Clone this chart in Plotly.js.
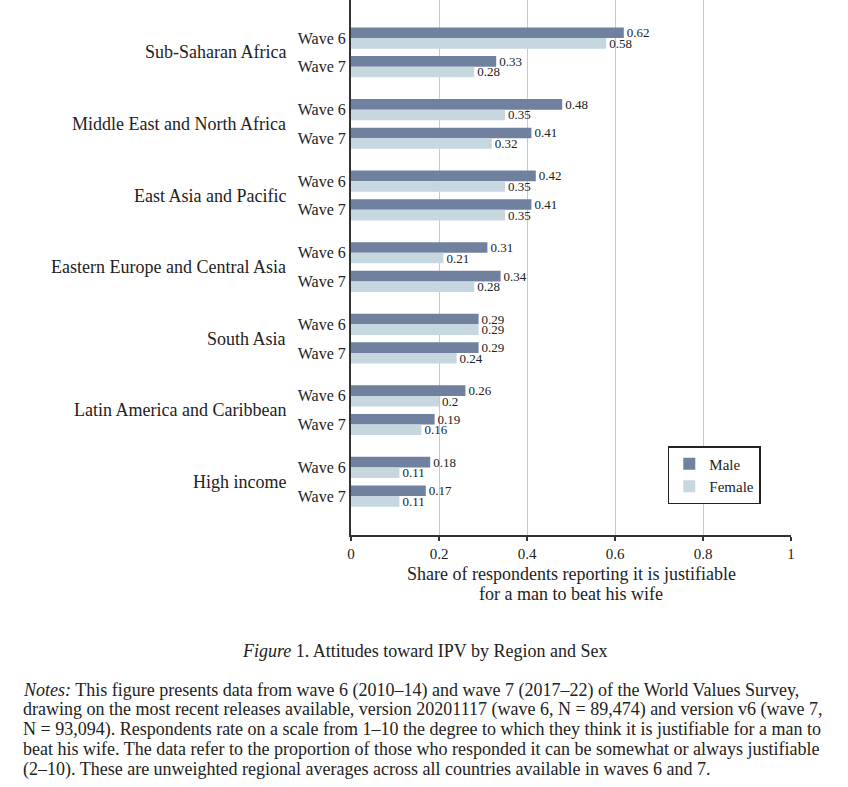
<!DOCTYPE html>
<html>
<head>
<meta charset="utf-8">
<script src="https://cdn.plot.ly/plotly-3.0.1.min.js"></script>
<style>
  html, body { margin: 0; padding: 0; background: #fff; }
  #chart { width: 848px; height: 787px; }
</style>
</head>
<body>
<div id="chart"></div>
<script>
// Regions, top to bottom
var regions = [
  "Sub-Saharan Africa",
  "Middle East and North Africa",
  "East Asia and Pacific",
  "Eastern Europe and Central Asia",
  "South Asia",
  "Latin America and Caribbean",
  "High income"
];
var waves = ["Wave 6", "Wave 7"];

// share reporting it justifiable, [wave 6, wave 7] per region
var maleValues = [
  [0.62, 0.33],
  [0.48, 0.41],
  [0.42, 0.41],
  [0.31, 0.34],
  [0.29, 0.29],
  [0.26, 0.19],
  [0.18, 0.17]
];
var femaleValues = [
  [0.58, 0.28],
  [0.35, 0.32],
  [0.35, 0.35],
  [0.21, 0.28],
  [0.29, 0.24],
  [0.2, 0.16],
  [0.11, 0.11]
];

var xTicks = [0, 0.2, 0.4, 0.6, 0.8, 1];

var axisTitleLines = [
  'Share of respondents reporting it is justifiable',
  'for a man to beat his wife'
];
var captionText = '<i>Figure</i> 1. Attitudes toward IPV by Region and Sex';
var noteLines = [
  '<i>Notes:</i> This figure presents data from wave 6 (2010–14) and wave 7 (2017–22) of the World Values Survey,',
  'drawing on the most recent releases available, version 20201117 (wave 6, N = 89,474) and version v6 (wave 7,',
  'N = 93,094). Respondents rate on a scale from 1–10 the degree to which they think it is justifiable for a man to',
  'beat his wife. The data refer to the proportion of those who responded it can be somewhat or always justifiable',
  '(2–10). These are unweighted regional averages across all countries available in waves 6 and 7.'
];

var serif = '"Liberation Serif", "DejaVu Serif", serif';
var ink = '#222';
var regionStep = 2.5;
var plotH = 535;

// flatten into rows: one per region / wave
var pos = [], waveText = [], male = [], female = [];
for (var r = 0; r < regions.length; r++) {
  for (var w = 0; w < waves.length; w++) {
    pos.push(r * regionStep + w);
    waveText.push(waves[w]);
    male.push(maleValues[r][w]);
    female.push(femaleValues[r][w]);
  }
}

function barTrace(name, values, color) {
  return {
    type: 'bar',
    orientation: 'h',
    name: name,
    y: pos,
    x: values,
    text: values.map(String),
    textposition: 'outside',
    constraintext: 'none',
    cliponaxis: false,
    textfont: { family: serif, size: 13, color: ink },
    marker: { color: color },
    hoverinfo: 'x'
  };
}

var maleTrace = barTrace('Male', male, '#6f819f');
var femaleTrace = barTrace('Female', female, '#c6d7df');

// paper y for a pixel row measured from the top of the page
function py(pixel) {
  return (plotH - pixel) / plotH;
}

// region labels on the left
var annotations = regions.map(function (name, r) {
  return {
    xref: 'paper', yref: 'y',
    x: 0, y: r * regionStep + 0.5,
    xanchor: 'right', yanchor: 'middle',
    xshift: -63,
    showarrow: false,
    text: name,
    font: { family: serif, size: 18, color: ink }
  };
});

axisTitleLines.forEach(function (line, i) {
  annotations.push({
    xref: 'paper', yref: 'paper',
    x: 0.5, y: py(574 + i * 20),
    xanchor: 'center', yanchor: 'middle',
    showarrow: false,
    text: line,
    font: { family: serif, size: 18, color: ink }
  });
});

annotations.push({
  xref: 'paper', yref: 'paper',
  x: 0.166, y: py(651),
  xanchor: 'center', yanchor: 'middle',
  showarrow: false,
  text: captionText,
  font: { family: serif, size: 18, color: ink }
});

noteLines.forEach(function (line, i) {
  annotations.push({
    xref: 'paper', yref: 'paper',
    x: (21 - 351) / 440, y: py(690 + i * 19.8),
    xanchor: 'left', yanchor: 'middle',
    align: 'left',
    showarrow: false,
    text: line,
    font: { family: serif, size: 18, color: ink }
  });
});

var layout = {
  width: 848,
  height: 787,
  margin: { l: 351, r: 57, t: 0, b: 787 - plotH },
  paper_bgcolor: '#fff',
  plot_bgcolor: '#fff',
  font: { family: serif, color: ink },
  barmode: 'group',
  bargap: 0.26,
  bargroupgap: 0,
  showlegend: true,
  legend: {
    x: 0.72, y: py(446),
    xanchor: 'left', yanchor: 'top',
    bgcolor: '#fff',
    bordercolor: ink,
    borderwidth: 1.5,
    font: { family: serif, size: 15, color: ink },
    tracegroupgap: 6
  },
  xaxis: {
    range: [0, 1],
    tickvals: xTicks,
    ticktext: xTicks.map(String),
    showgrid: true,
    gridcolor: '#c9c9c9',
    gridwidth: 1,
    zeroline: false,
    showline: true,
    linecolor: '#333',
    linewidth: 2,
    ticks: 'outside',
    ticklen: 4,
    tickwidth: 2,
    tickcolor: '#333',
    tickfont: { family: serif, size: 15, color: ink },
    fixedrange: true
  },
  yaxis: {
    range: [17.36, -1.33],
    tickvals: pos,
    ticktext: waveText,
    showgrid: false,
    zeroline: false,
    showline: true,
    linecolor: '#333',
    linewidth: 2,
    ticks: '',
    ticklabelstandoff: 0,
    tickfont: { family: serif, size: 16, color: ink },
    fixedrange: true
  },
  annotations: annotations
};

Plotly.newPlot('chart', [maleTrace, femaleTrace], layout, { displayModeBar: false, staticPlot: true });
</script>
</body>
</html>
